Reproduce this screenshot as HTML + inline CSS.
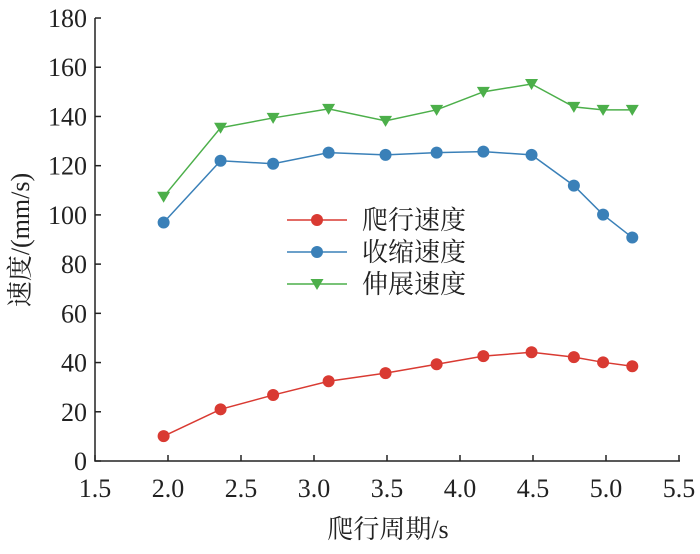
<!DOCTYPE html>
<html><head><meta charset="utf-8"><style>
body{margin:0;background:#fff}
svg text{font-family:"Liberation Serif","Noto Serif CJK SC",serif;fill:#222}
</style></head><body>
<svg id="c" width="700" height="549"></svg>
<script>
const xs=[1.97,2.36,2.72,3.10,3.49,3.84,4.16,4.49,4.78,4.98,5.18];
const crawl=[10.1,21,26.8,32.4,35.7,39.3,42.6,44.2,42.2,40.1,38.5];
const shrink=[96.9,122,120.8,125.3,124.4,125.3,125.7,124.4,111.9,100.1,90.8];
const extend=[107.4,135.4,139.4,143.1,138.2,142.7,150,153.2,143.9,142.7,142.7];
const xTicks=[1.5,2.0,2.5,3.0,3.5,4.0,4.5,5.0,5.5];
const yTicks=[0,20,40,60,80,100,120,140,160,180];
const names=["爬行速度","收缩速度","伸展速度"];
const NS="http://www.w3.org/2000/svg",svg=document.getElementById('c');
const X=v=>95+(v-1.5)*146, Y=v=>461-v*2.461;
function mk(t,a,p){const e=document.createElementNS(NS,t);for(const k in a)e.setAttribute(k,a[k]);(p||svg).appendChild(e);return e;}
let ax=mk('path',{d:`M95,18V461H680`,fill:'none',stroke:'#222','stroke-width':1.5});


xTicks.forEach(v=>{
 const l=mk('line',{x1:X(v),x2:X(v),y1:461,y2:455,stroke:'#222','stroke-width':1.5});
 
 
 const t=mk('text',{x:X(v),y:497,'text-anchor':'middle','font-size':26});t.textContent=v.toFixed(1);
 
 
});
yTicks.forEach(v=>{
 const l=mk('line',{x1:95,x2:101,y1:Y(v),y2:Y(v),stroke:'#222','stroke-width':1.5});
 
 
 const t=mk('text',{x:87,y:Y(v)+9,'text-anchor':'end','font-size':26});t.textContent=v;
 
 
});
let xt=mk('text',{x:388,y:538,'text-anchor':'middle','font-size':26});xt.textContent='爬行周期/s';


let yt=mk('text',{x:0,y:0,'text-anchor':'middle','font-size':26,transform:'translate(29,240) rotate(-90)'});yt.textContent='速度/(mm/s)';


function marker(x,y,col,tri,g){
 if(tri)return mk('polygon',{points:`${x-6.5},${y-5} ${x+6.5},${y-5} ${x},${y+6}`,fill:col},g);
 return mk('circle',{cx:x,cy:y,r:6,fill:col},g);
}
const series=[[crawl,'#d93a32',false],[shrink,'#3a80b8',false],[extend,'#4caf4a',true]];
series.forEach(([d,col,tri],i)=>{
 const g=mk('g',{});
 
 
 mk('polyline',{points:d.map((v,j)=>X(xs[j])+','+Y(v)).join(' '),fill:'none',stroke:col,'stroke-width':1.5},g);
 d.forEach((v,j)=>{const m=marker(X(xs[j]),Y(v),col,tri,g);
  
  });
 const ly=220+i*32;
 const lg=mk('g',{});
 
 
 mk('line',{x1:287,x2:347,y1:ly,y2:ly,stroke:col,'stroke-width':1.5},lg);
 marker(317,ly,col,tri,lg);
 const t=mk('text',{x:362,y:ly+9,'font-size':26},lg);t.textContent=names[i];
});
</script>
</body></html>
